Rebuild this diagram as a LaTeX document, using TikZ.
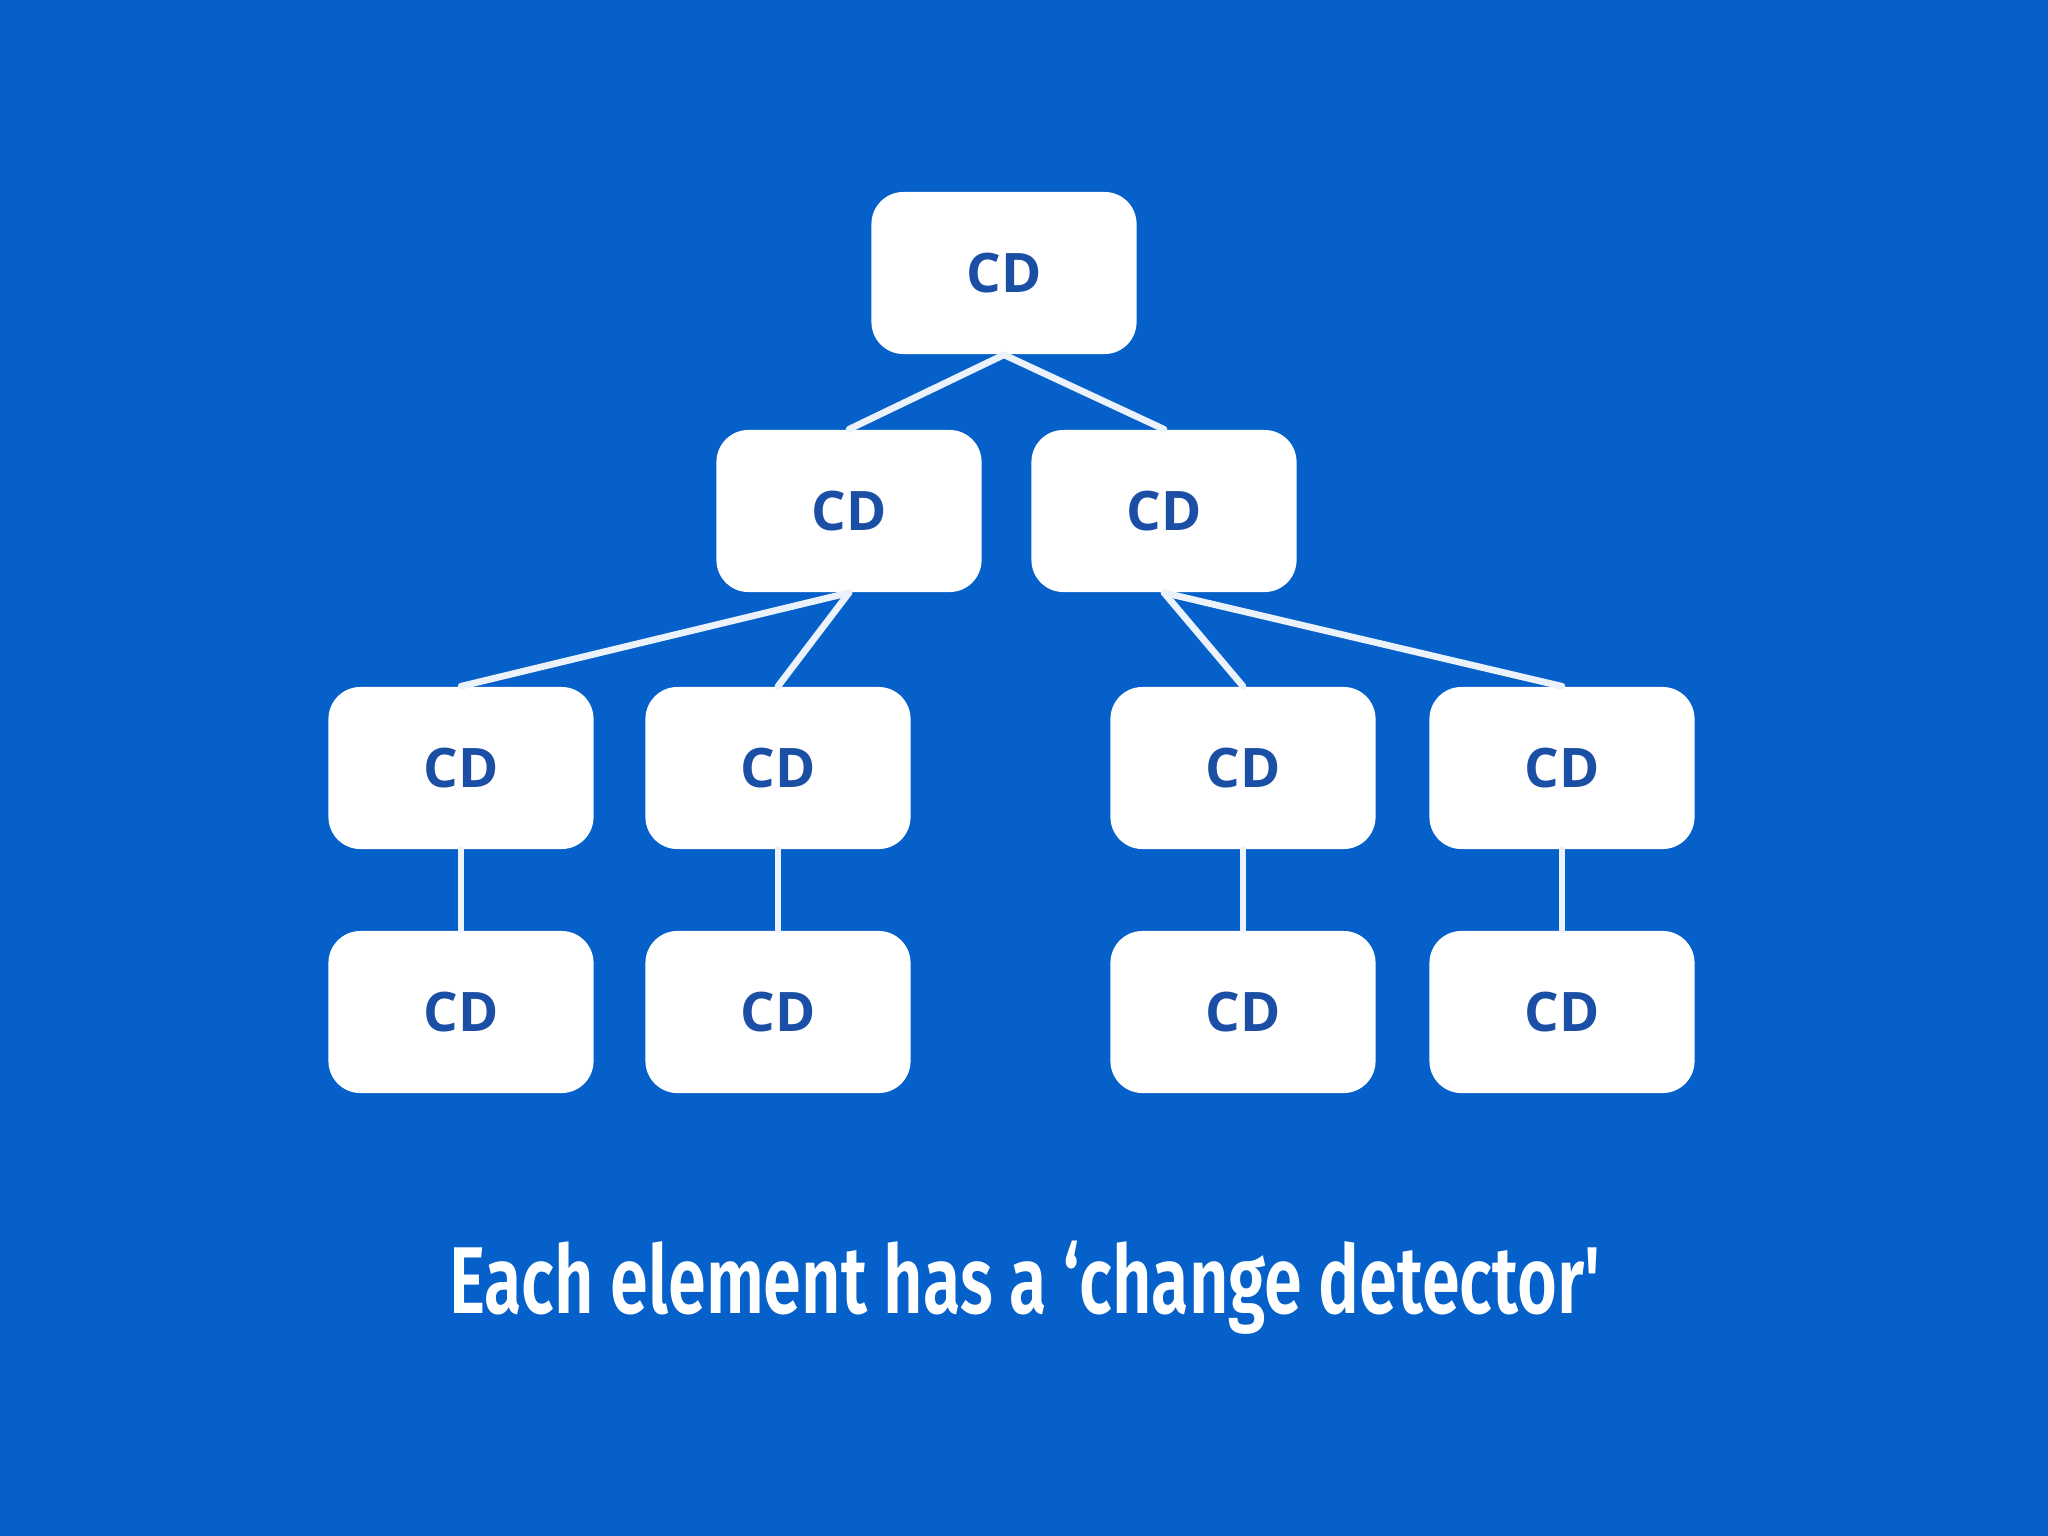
\documentclass[tikz,border=0pt]{standalone}
\usepackage{fontspec}
\setsansfont{Open Sans}
\newfontfamily\capfont[FakeStretch=0.72]{Fira Sans SemiBold}
\usetikzlibrary{positioning}
\definecolor{bgblue}{HTML}{0561C9}
\definecolor{cdblue}{HTML}{1B4FA6}
\tikzset{
  cdbox/.style={fill=white, rounded corners=0.32cm, minimum width=2.65cm, minimum height=1.62cm,
    text=cdblue, font=\sffamily\bfseries\fontsize{15.5}{16}\selectfont},
  link/.style={draw=white!92!bgblue, line width=1.9pt, line cap=round}
}

\begin{document}
\begin{tikzpicture}[x=0.01cm,y=-0.01cm]
            \fill[bgblue] (0,0) rectangle (2048,1536);
            \draw (1004,273) node[cdbox] (root) {CD};
            \draw (849,511) node[cdbox] (left) {CD};
            \draw (1164,511) node[cdbox] (right) {CD};
            \draw (461,768) node[cdbox] (leftA) {CD};
            \draw (778,768) node[cdbox] (leftB) {CD};
            \draw (1243,768) node[cdbox] (rightA) {CD};
            \draw (1562,768) node[cdbox] (rightB) {CD};
            \draw (461,1012) node[cdbox] (leftAkid) {CD};
            \draw (778,1012) node[cdbox] (leftBkid) {CD};
            \draw (1243,1012) node[cdbox] (rightAkid) {CD};
            \draw (1562,1012) node[cdbox] (rightBkid) {CD};
            \path[link]
            (root.south) edge (left.north)
            (root.south) edge (right.north)
            (left.south) edge (leftA.north)
            (left.south) edge (leftB.north)
            (right.south) edge (rightA.north)
            (right.south) edge (rightB.north)
            (leftA.south) edge (leftAkid.north)
            (leftB.south) edge (leftBkid.north)
            (rightA.south) edge (rightAkid.north)
            (rightB.south) edge (rightBkid.north);
            \draw (1025,1288) node[text=white, font=\capfont\fontsize{27}{27}\selectfont] (caption) {Each element has a ‘change detector'};
        \end{tikzpicture}
\end{document}
